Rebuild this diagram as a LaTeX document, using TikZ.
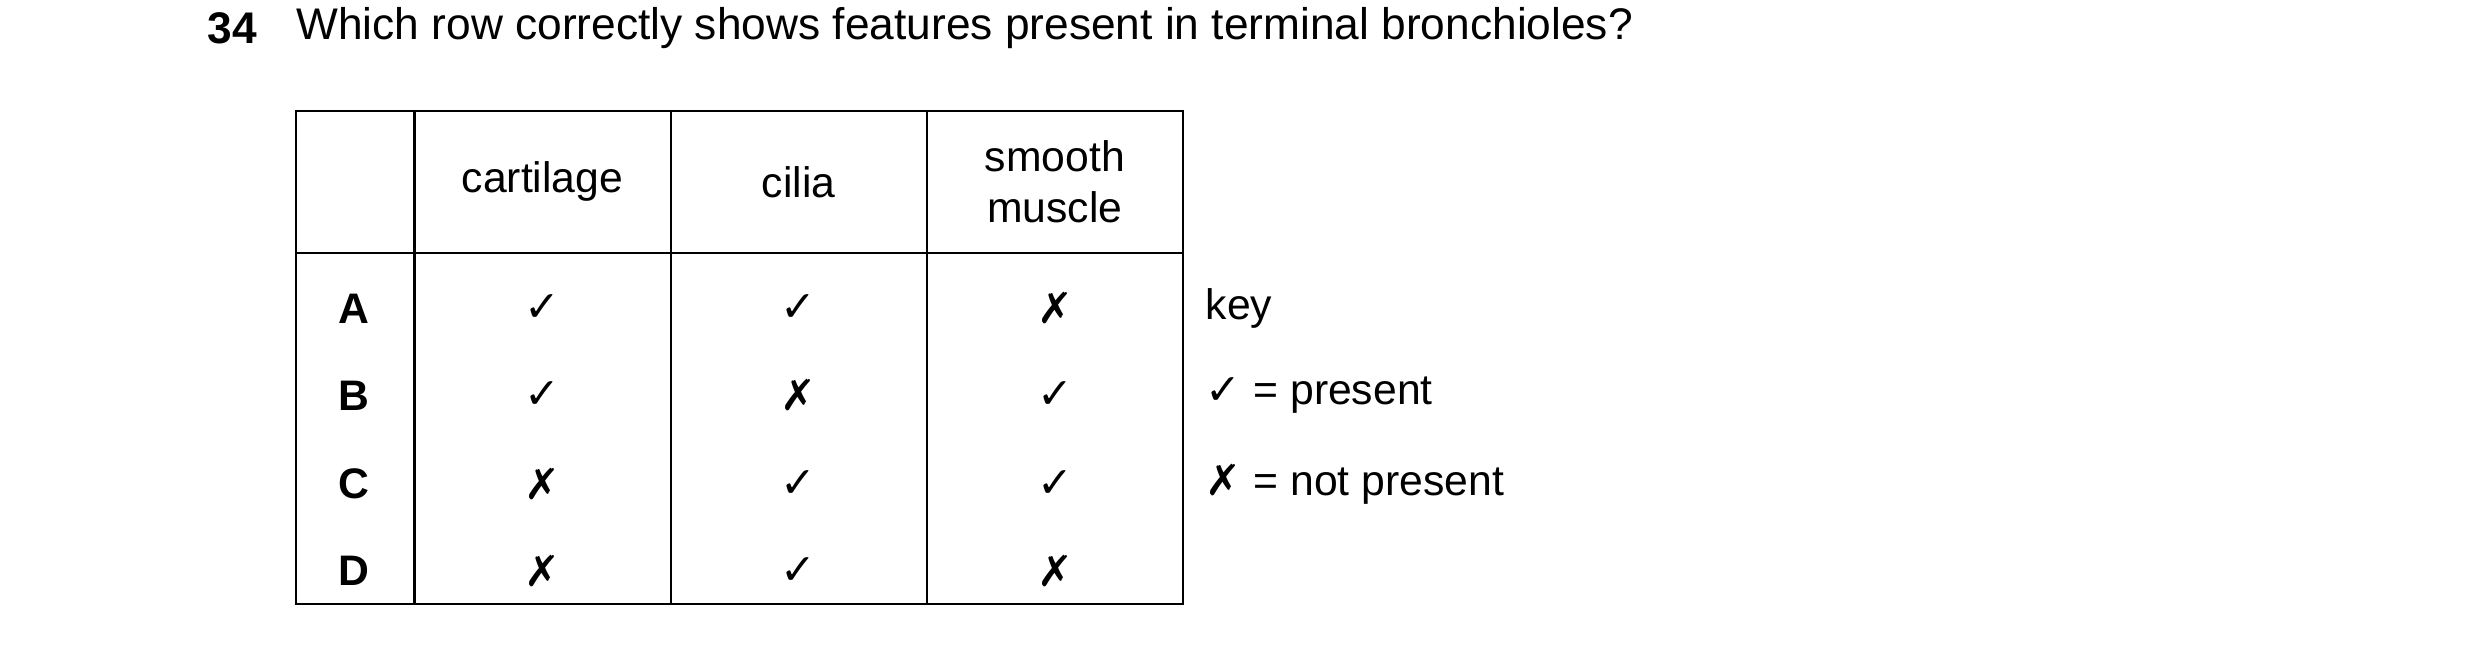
\documentclass[tikz,border=0pt]{standalone}
\usepackage{fontspec}
\setmainfont{Liberation Sans}
\newfontfamily\sym{DejaVu Sans}
\newcommand{\ck}{{\sym ✓}}
\newcommand{\cx}{{\sym ✗}}
\begin{document}
\begin{tikzpicture}[x=0.5pt,y=-0.5pt,
  t/.style={font=\fontsize{13.5}{16}\selectfont,inner sep=0pt,align=center},
  k/.style={t,anchor=west},
  ln/.style={line width=0.7pt}]
\useasboundingbox (0,0) rectangle (1568,408);
\node[t,anchor=west,font=\fontsize{14}{17}\selectfont\bfseries] (n) at (131,18) {34};
\node[t,anchor=west,font=\fontsize{14}{17}\selectfont] (q) at (187,18) {Which row correctly shows features present in terminal bronchioles?};
\draw[ln] (187,70) rectangle (748,382);
\draw[ln] (187,160) -- (748,160);
\foreach \x in {262,424,586} \draw[ln] (\x,70) -- (\x,382);
\node[t] (h1) at (343,115) {cartilage};
\node[t] (h2) at (505,115) {cilia};
\node[t] (h3) at (667,115) {smooth\\muscle};
\foreach \r/\y/\a/\b/\c in {A/195/\ck/\ck/\cx, B/250/\ck/\cx/\ck, C/306/\cx/\ck/\ck, D/361/\cx/\ck/\cx}{
  \node[t,font=\fontsize{13.5}{16}\selectfont\bfseries] (r\r) at (224,\y) {\r};
  \node[t] at (343,\y) {\a};
  \node[t] at (505,\y) {\b};
  \node[t] at (667,\y) {\c};
}
\node[k] (k0) at (762,195) {key};
\node[k] (k1) at (762,250) {\ck\ = present};
\node[k] (k2) at (762,306) {\cx\ = not present};
\end{tikzpicture}
\end{document}
